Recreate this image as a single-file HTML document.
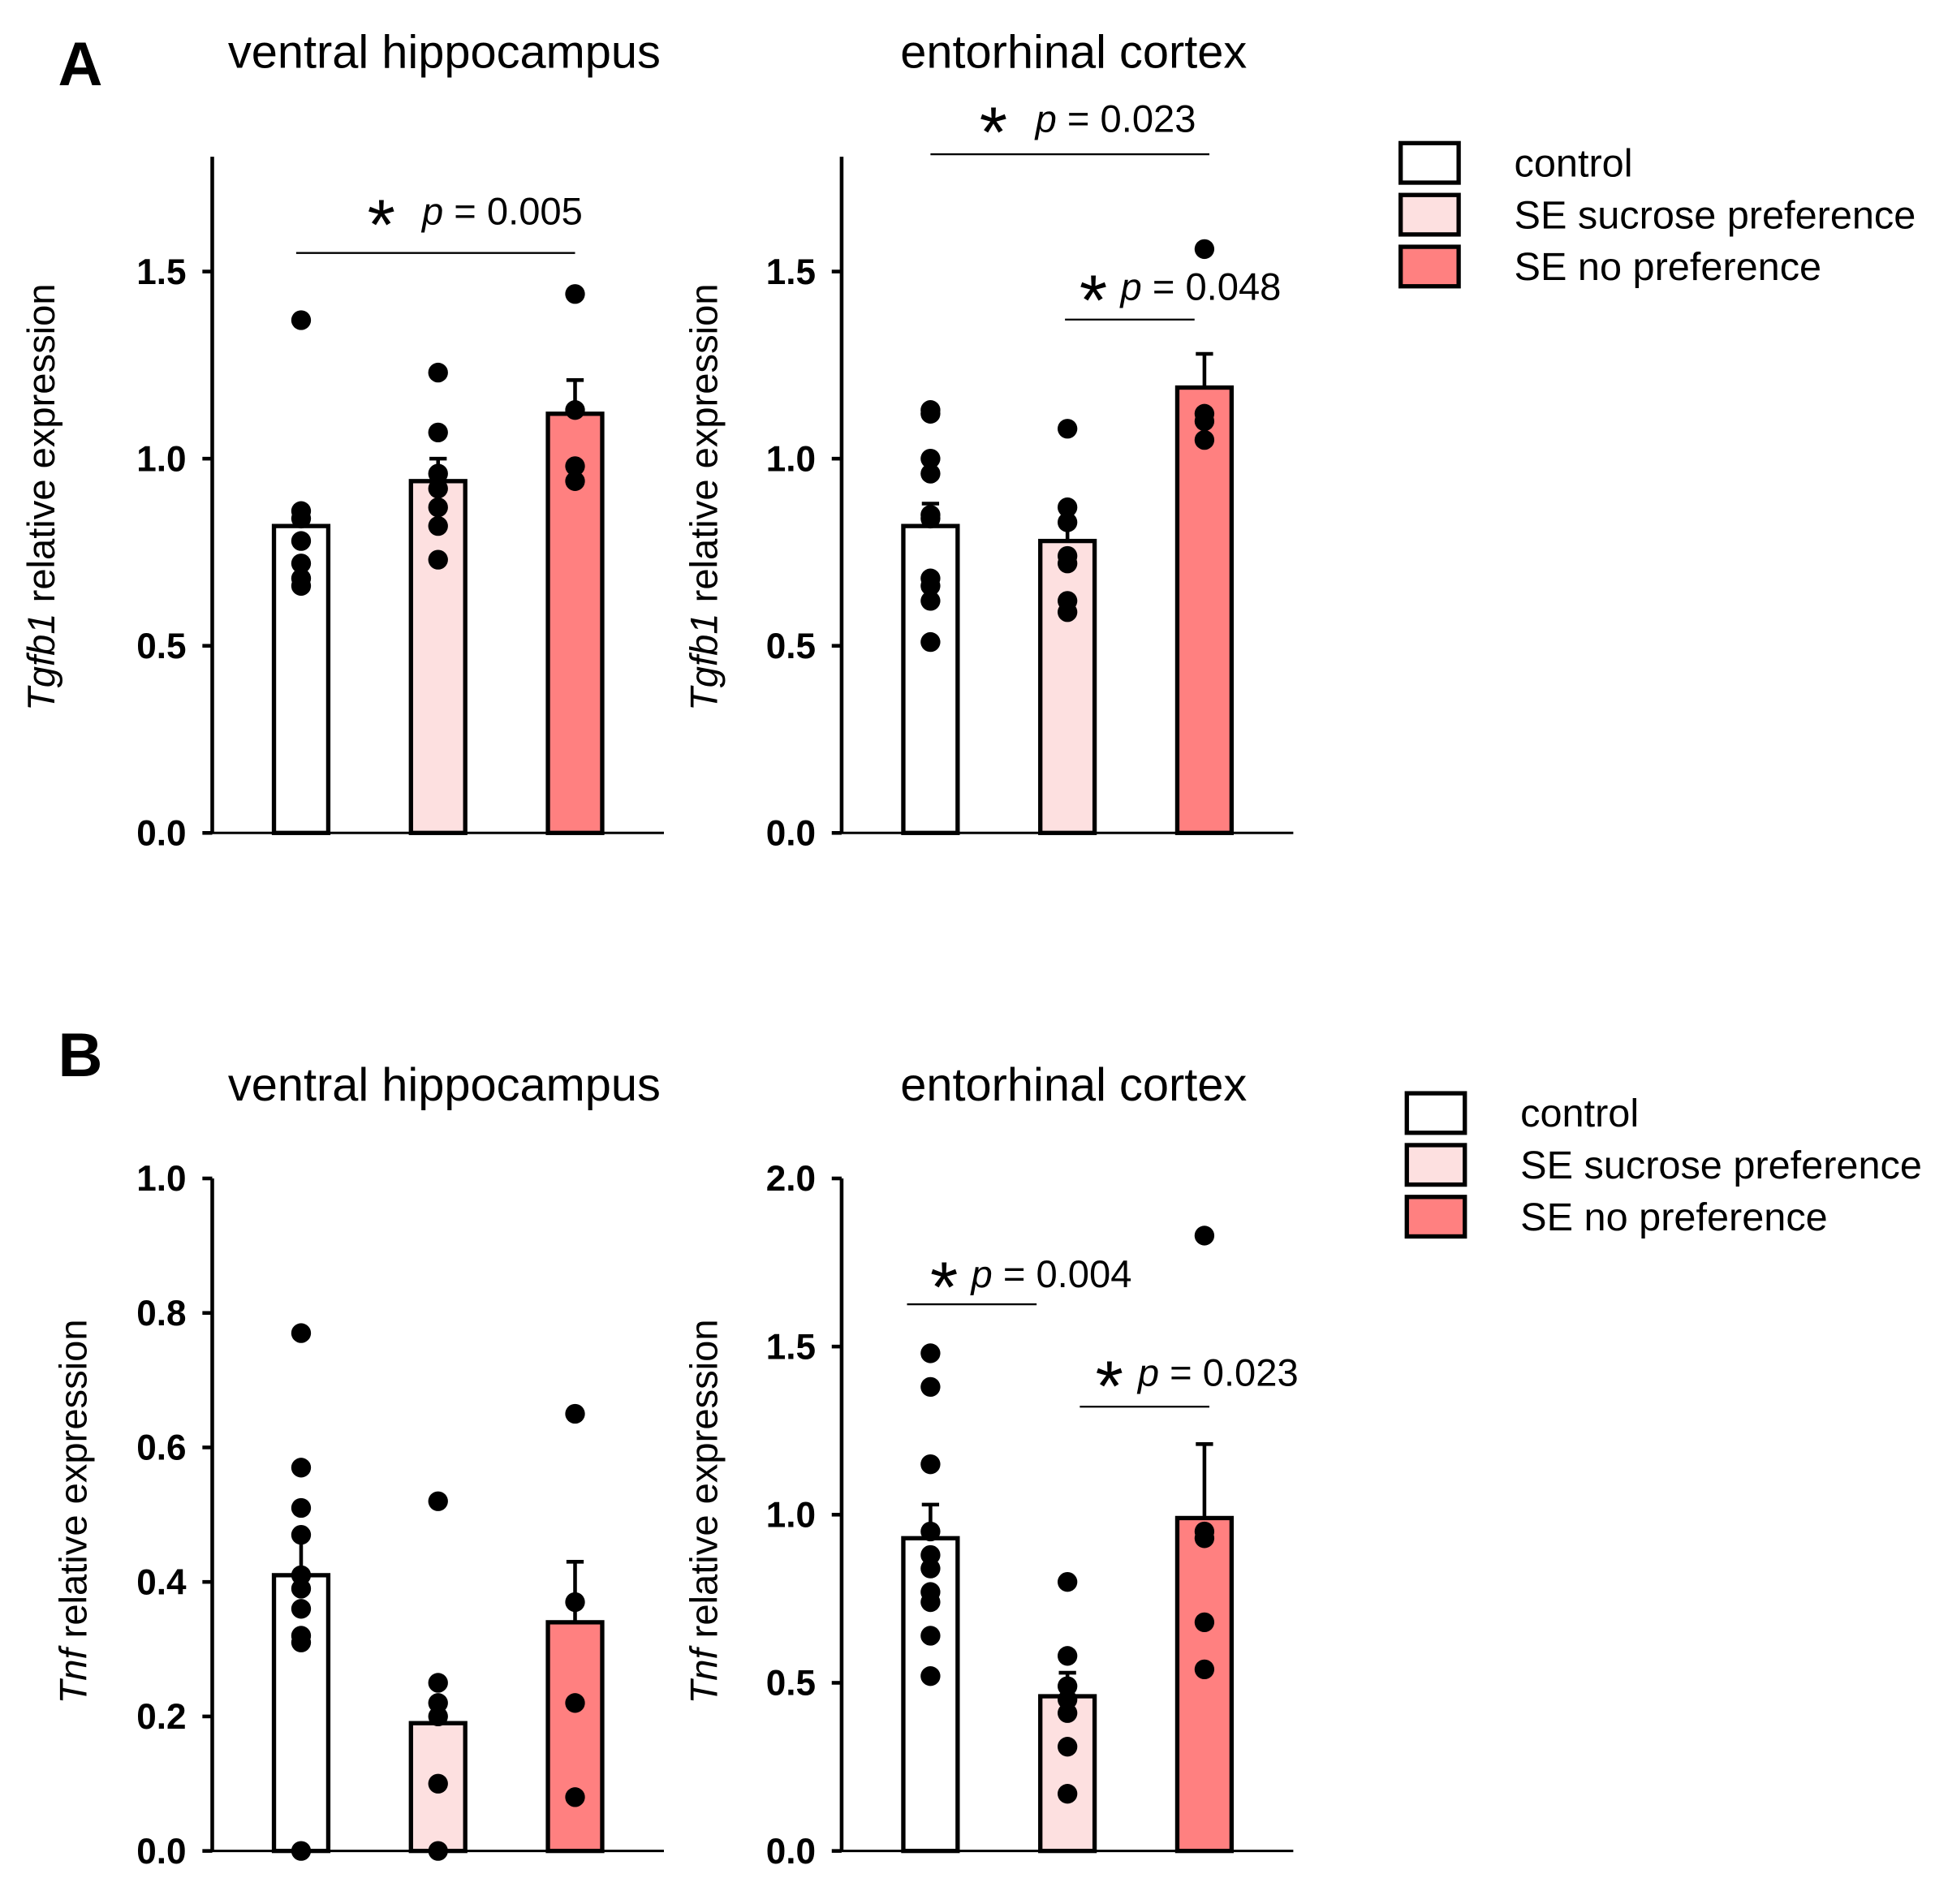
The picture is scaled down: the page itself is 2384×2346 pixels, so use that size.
<!DOCTYPE html>
<html><head><meta charset="utf-8"><style>
html,body{margin:0;padding:0;background:#fff;}
svg{display:block;font-family:"Liberation Sans",Arial,sans-serif;}
</style></head><body>
<svg id="fig" width="2384" height="2346" viewBox="0 0 1568 1543" xmlns="http://www.w3.org/2000/svg">
<text x="47" y="69" font-size="50" font-weight="bold">A</text>
<text x="47" y="872" font-size="50" font-weight="bold">B</text>
<g id="legA"></g>
<g id="legB"></g>
</svg>
<script>
const groups = ["control","SE sucrose preference","SE no preference"];
const fills = ["#ffffff","#fde0e0","#ff8080"];
// Panel A left: ventral hippocampus Tgfb1
const aLeftMeans = [0.82,0.94,1.12];
const aLeftErr = [0.04,0.06,0.09];
const aLeftDots = [[1.37,0.86,0.84,0.78,0.72,0.68,0.66],[1.23,1.07,0.96,0.92,0.87,0.82,0.73],[1.44,1.13,0.98,0.94]];
const aLeftTicks = [0,0.5,1.0,1.5];
// Panel A right: entorhinal cortex Tgfb1
const aRightMeans = [0.82,0.78,1.19];
const aRightErr = [0.06,0.05,0.09];
const aRightDots = [[1.13,1.12,1.0,0.96,0.85,0.84,0.68,0.66,0.62,0.51],[1.08,0.87,0.83,0.74,0.72,0.62,0.59],[1.56,1.12,1.10,1.05]];
const aRightTicks = [0,0.5,1.0,1.5];
// Panel B left: ventral hippocampus Tnf
const bLeftMeans = [0.41,0.19,0.34];
const bLeftErr = [0.06,0.03,0.09];
const bLeftDots = [[0.77,0.57,0.51,0.47,0.41,0.39,0.36,0.32,0.31,0.0],[0.52,0.25,0.22,0.20,0.10,0.0],[0.65,0.37,0.22,0.08]];
const bLeftTicks = [0,0.2,0.4,0.6,0.8,1.0];
// Panel B right: entorhinal cortex Tnf
const bRightMeans = [0.93,0.46,0.99];
const bRightErr = [0.10,0.07,0.22];
const bRightDots = [[1.48,1.38,1.15,0.95,0.88,0.84,0.77,0.74,0.64,0.52],[0.80,0.58,0.49,0.45,0.41,0.31,0.17],[1.83,0.95,0.93,0.68,0.54]];
const bRightTicks = [0,0.5,1.0,1.5,2.0];

const NS="http://www.w3.org/2000/svg";
const svg=document.getElementById('fig');
function mk(tag,attrs,parent){const e=document.createElementNS(NS,tag);for(const k in attrs)e.setAttribute(k,attrs[k]);(parent||svg).appendChild(e);return e;}

function panel(cfg){
  const g=mk('g',{});
  
  
  const y=v=>cfg.y0-(v/cfg.unit)*cfg.pxPerUnit;
  const ax=cfg.ax;
  const yAxis=mk('line',{x1:ax,x2:ax,y1:cfg.y0,y2:cfg.top,stroke:'#000','stroke-width':3},g);
  
  
  const xAxis=mk('line',{x1:ax,x2:ax+366,y1:cfg.y0,y2:cfg.y0,stroke:'#000','stroke-width':2},g);
  
  
  cfg.ticks.forEach(t=>{
    mk('line',{x1:ax-8,x2:ax,y1:y(t),y2:y(t),stroke:'#000','stroke-width':3},g);
    const tl=mk('text',{x:ax-21,y:y(t)+10,'font-size':29,'font-weight':'bold','text-anchor':'end'},g);
    tl.textContent=t.toFixed(1);
    
    
  });
  const tt=mk('text',{x:ax+188,y:cfg.titleY,'font-size':38,'text-anchor':'middle'},g);
  tt.textContent=cfg.title;
  
  
  const yl=mk('text',{transform:`translate(${cfg.ylx},${cfg.yly}) rotate(-90)`,'font-size':31,'text-anchor':'middle'},g);
  yl.innerHTML=`<tspan font-style="italic">${cfg.gene}</tspan> relative expression`;
  
  
  const cx=[ax+72,ax+183,ax+294];
  cfg.means.forEach((m,i)=>{
    const top=y(m+cfg.err[i]);
    const el=mk('line',{x1:cx[i],x2:cx[i],y1:y(m),y2:top,stroke:'#000','stroke-width':3},g);
    
    
    mk('line',{x1:cx[i]-7,x2:cx[i]+7,y1:top,y2:top,stroke:'#000','stroke-width':3},g);
    const b=mk('rect',{x:cx[i]-22,y:y(m),width:44,height:cfg.y0-y(m),fill:fills[i],stroke:'#000','stroke-width':3.5},g);
    
    
  });
  cfg.dots.forEach((arr,i)=>arr.forEach(v=>{
    const d=mk('circle',{cx:cx[i],cy:y(v),r:8,fill:'#000'},g);
    
    
  }));
  (cfg.sig||[]).forEach(s=>{
    mk('line',{x1:s.x1,x2:s.x2,y1:s.y,y2:s.y,stroke:'#000','stroke-width':1.5},g);
    const star=mk('text',{x:s.sx,y:s.ty+20,'font-size':58,'text-anchor':'middle'},g);
    star.textContent='*';
    
    
    const st=mk('text',{x:s.px,y:s.ty,'font-size':31},g);
    st.innerHTML=`<tspan font-style="italic">p</tspan> = ${s.p}`;
    
    
  });
}
panel({name:'panel-a-ventral-hippocampus',ax:172,y0:675,top:127,unit:1,pxPerUnit:303.3,ticks:aLeftTicks,means:aLeftMeans,err:aLeftErr,dots:aLeftDots,title:'ventral hippocampus',titleY:55,gene:'Tgfb1',ylx:44,yly:403,
  sig:[{x1:240,x2:466,y:205,sx:309,px:342,ty:182,p:'0.005'}]});
panel({name:'panel-a-entorhinal-cortex',ax:682,y0:675,top:127,unit:1,pxPerUnit:303.3,ticks:aRightTicks,means:aRightMeans,err:aRightErr,dots:aRightDots,title:'entorhinal cortex',titleY:55,gene:'Tgfb1',ylx:581,yly:403,
  sig:[{x1:754,x2:980,y:125,sx:805,px:839,ty:107,p:'0.023'},{x1:863,x2:968,y:259,sx:886,px:908,ty:243,p:'0.048'}]});
panel({name:'panel-b-ventral-hippocampus',ax:172,y0:1500,top:955,unit:1,pxPerUnit:545,ticks:bLeftTicks,means:bLeftMeans,err:bLeftErr,dots:bLeftDots,title:'ventral hippocampus',titleY:892,gene:'Tnf',ylx:70,yly:1225});
panel({name:'panel-b-entorhinal-cortex',ax:682,y0:1500,top:955,unit:1,pxPerUnit:272.5,ticks:bRightTicks,means:bRightMeans,err:bRightErr,dots:bRightDots,title:'entorhinal cortex',titleY:892,gene:'Tnf',ylx:581,yly:1225,
  sig:[{x1:735,x2:840,y:1057,sx:765,px:787,ty:1043,p:'0.004'},{x1:875,x2:980,y:1140,sx:899,px:922,ty:1123,p:'0.023'}]});

function legend(id,bx,by,tx){
  const g=document.getElementById(id);
  groups.forEach((name,i)=>{
    const r=mk('rect',{x:bx,y:by+i*42,width:47,height:32,fill:fills[i],stroke:'#000','stroke-width':3.5},g);
    
    
    const t=mk('text',{x:tx,y:by+i*42+27,'font-size':32},g);
    t.textContent=name;
    
    
  });
}
legend('legA',1135,116,1227);
legend('legB',1140,886,1232);
</script>
</body></html>
